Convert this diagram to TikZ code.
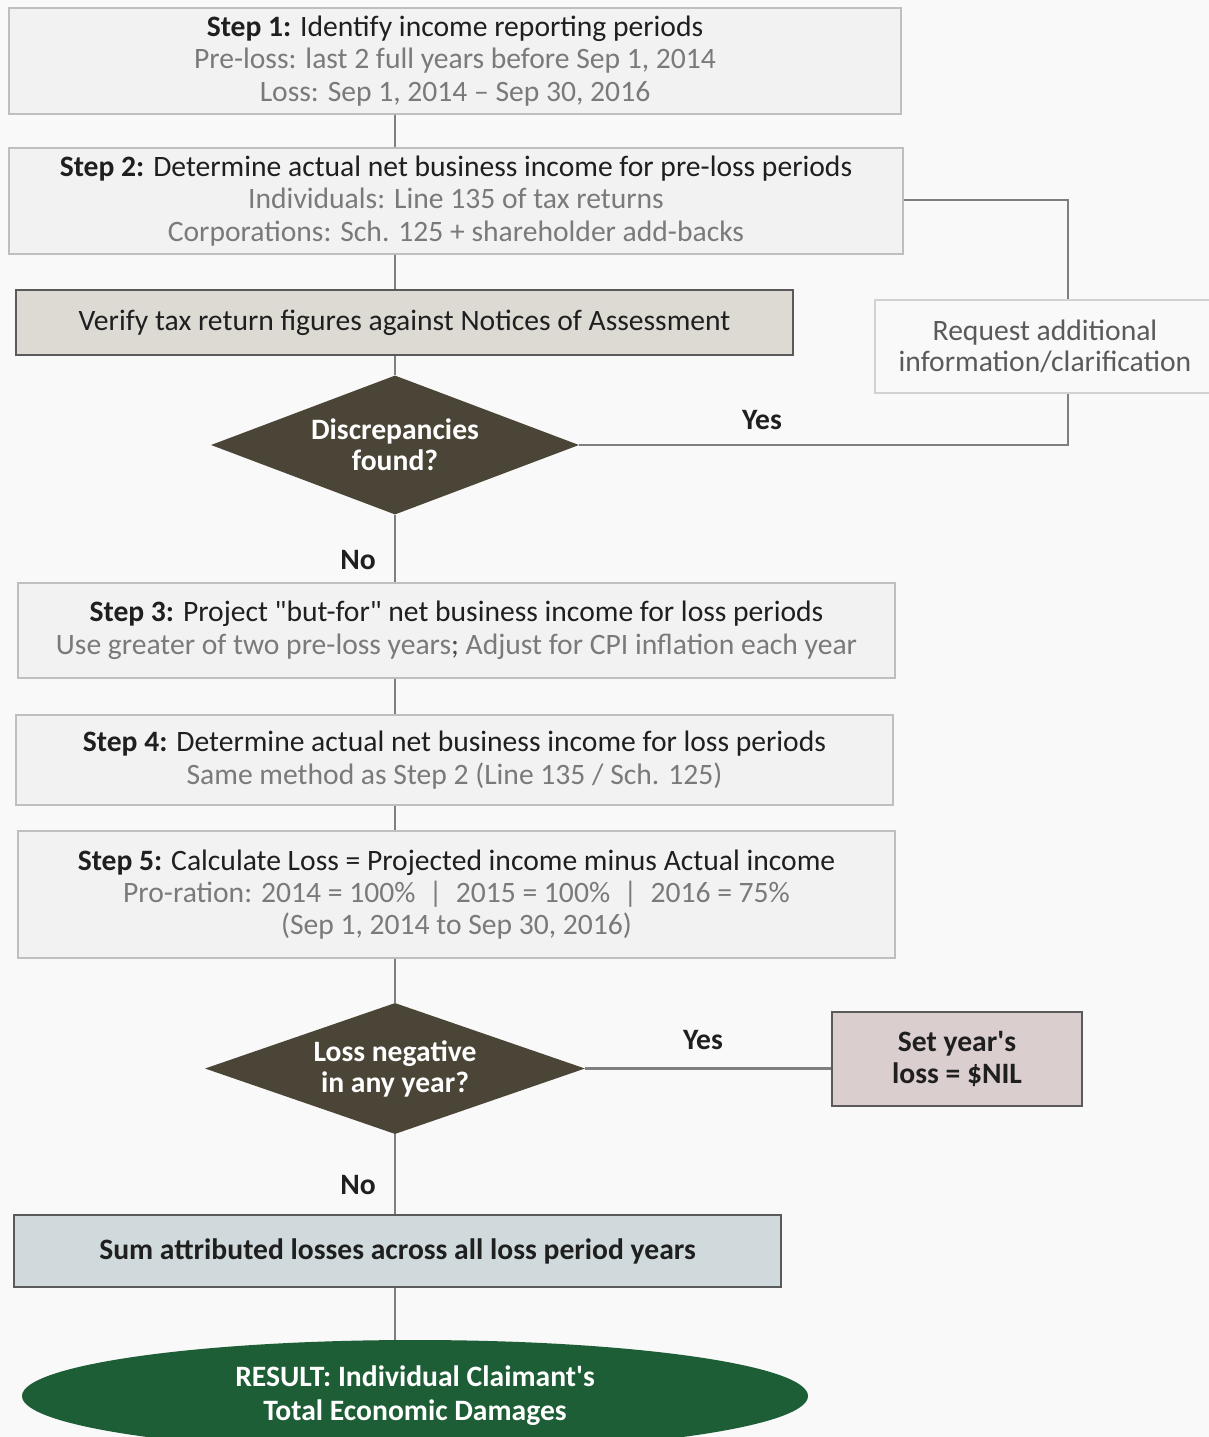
\documentclass[tikz,border=0pt]{standalone}
\usepackage{fontspec}
\setmainfont{Carlito}
\usetikzlibrary{shapes.geometric}
\definecolor{bg}{HTML}{F9F9F9}
\definecolor{boxfill}{HTML}{F2F2F2}
\definecolor{boxline}{HTML}{BFBFBF}
\definecolor{subtxt}{HTML}{7A7A7A}
\definecolor{maintxt}{HTML}{1F1F1F}
\definecolor{verfill}{HTML}{DCDAD3}
\definecolor{darkline}{HTML}{5A5A5A}
\definecolor{diafill}{HTML}{4A4536}
\definecolor{nilfill}{HTML}{DACECE}
\definecolor{sumfill}{HTML}{D0DADC}
\definecolor{resfill}{HTML}{1D5E36}
\definecolor{conn}{HTML}{7F7F7F}
\tikzset{
  every node/.style={font=\fontsize{29.6}{32.5}\selectfont, inner sep=0pt},
  stepbox/.style={draw=boxline, line width=1.5pt, fill=boxfill, rectangle, align=center, text=maintxt},
  darkbox/.style={draw=darkline, line width=1.5pt, rectangle, align=center, text=maintxt, font=\fontsize{29.6}{32.5}\selectfont\bfseries},
  decision/.style={diamond, fill=diafill, aspect=2.65, align=center, text=white, font=\fontsize{29.6}{31}\selectfont\bfseries},
  lbl/.style={text=maintxt, font=\fontsize{29.6}{32.5}\selectfont\bfseries},
  conline/.style={draw=conn, line width=2.5pt},
}
\begin{document}
\begin{tikzpicture}[x=1pt,y=-1pt]
\fill[bg] (0,0) rectangle (1209,1437);
\useasboundingbox (0,0) rectangle (1209,1437);

\node[stepbox, minimum width=892, minimum height=106] (s1) at (455,61)
  {\textbf{Step 1:} Identify income reporting periods\\
   \textcolor{subtxt}{Pre-loss: last 2 full years before Sep 1, 2014}\\
   \textcolor{subtxt}{Loss: Sep 1, 2014 -- Sep 30, 2016}};

\node[stepbox, minimum width=894, minimum height=106] (s2) at (456,201)
  {\textbf{Step 2:} Determine actual net business income for pre-loss periods\\
   \textcolor{subtxt}{Individuals: Line 135 of tax returns}\\
   \textcolor{subtxt}{Corporations: Sch. 125 + shareholder add-backs}};

\node[stepbox, draw=darkline, fill=verfill, minimum width=777, minimum height=65] (v) at (404.5,322.5)
  {Verify tax return figures against Notices of Assessment};

\node[decision, minimum width=368, minimum height=139] (d1) at (395,445)
  {Discrepancies\\found?};

\node[stepbox, draw=boxline!70, fill=bg, minimum width=340, minimum height=93, font=\fontsize{29.6}{31}\selectfont] (req) at (1045,346.5)
  {\textcolor{darkline}{Request additional}\\\textcolor{darkline}{information/clarification}};

\node[stepbox, minimum width=877, minimum height=95] (s3) at (456.5,630.5)
  {\textbf{Step 3:} Project \textquotedbl but-for\textquotedbl{} net business income for loss periods\\
   \textcolor{subtxt}{Use greater of two pre-loss years}\textcolor{maintxt!80}{;} \textcolor{subtxt}{Adjust for CPI inflation each year}};

\node[stepbox, minimum width=877, minimum height=90] (s4) at (454.5,760)
  {\textbf{Step 4:} Determine actual net business income for loss periods\\
   \textcolor{subtxt}{Same method as Step 2 (Line 135 / Sch. 125)}};

\node[stepbox, minimum width=877, minimum height=127, font=\fontsize{29.6}{32}\selectfont] (s5) at (456.5,894.5)
  {\textbf{Step 5:} Calculate Loss = Projected income minus Actual income\\
   \textcolor{subtxt}{Pro-ration: 2014 = 100\%\ \ |\ \ 2015 = 100\%\ \ |\ \ 2016 = 75\%}\\
   \textcolor{subtxt}{(Sep 1, 2014 to Sep 30, 2016)}};

\node[decision, minimum width=380, minimum height=131] (d2) at (395,1068.5)
  {Loss negative\\in any year?};

\node[darkbox, fill=nilfill, minimum width=250, minimum height=94, font=\fontsize{29.6}{32}\selectfont\bfseries] (nil) at (957,1059)
  {Set year\textquotesingle s\\loss = \$NIL};

\node[darkbox, fill=sumfill, minimum width=767, minimum height=72] (sum) at (397.5,1251)
  {Sum attributed losses across all loss period years};

\node[ellipse, fill=resfill, minimum width=786, minimum height=112, align=center, text=white,
      font=\fontsize{29.6}{34}\selectfont\bfseries] (res) at (415,1396)
  {RESULT: Individual Claimant\textquotesingle s\\Total Economic Damages};

% connectors
\coordinate (t1) at (s2.east |- 0,200);
\coordinate (t2) at (1068,200);
\coordinate (t3) at (1068,445);
\draw[conline] (s1.south -| d1.north) -- (s2.north -| d1.north);
\draw[conline] (s2.south -| d1.north) -- (v.north -| d1.north);
\draw[conline] (v.south -| d1.north) -- (d1.north);
\draw[conline] (d1.south) -- (s3.north -| d1.south);
\draw[conline] (t1) -- (t2) -- (req.north -| t2);
\draw[conline] (req.south -| t3) -- (t3) -- (d1.east);
\draw[conline] (s3.south -| d1.south) -- (s4.north -| d1.south);
\draw[conline] (s4.south -| d1.south) -- (s5.north -| d1.south);
\draw[conline] (s5.south -| d2.north) -- (d2.north);
\draw[conline] (d2.east) -- (nil.west |- d2.east);
\draw[conline] (d2.south) -- (sum.north -| d2.south);
\draw[conline] (sum.south -| d2.south) -- (res.north -| d2.south);

\node[lbl] (yes1) at (762,420) {Yes};
\node[lbl] (no1) at (358,560) {No};
\node[lbl] (yes2) at (703,1040) {Yes};
\node[lbl] (no2) at (358,1185) {No};
\end{tikzpicture}
\end{document}
